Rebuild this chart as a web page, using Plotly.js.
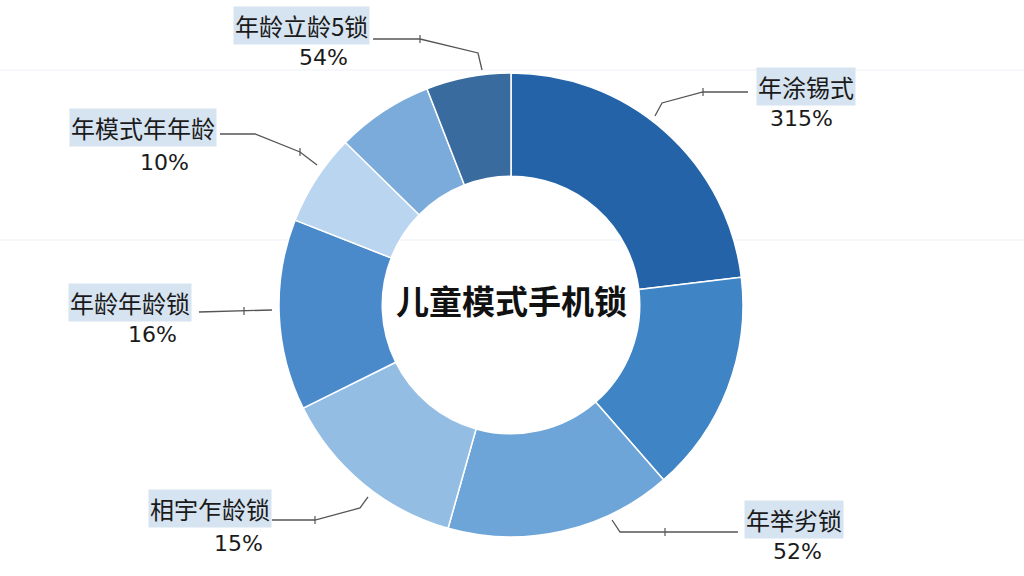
<!DOCTYPE html>
<html><head><meta charset="utf-8">
<script src="https://cdn.plot.ly/plotly-3.0.1.min.js"></script>
<style>html,body{margin:0;padding:0;background:#fff}#c{width:1024px;height:576px}</style>
</head><body><div id="c"></div>
<script>
// Data
const sliceNames = ["年涂锡式", "切片二", "年举劣锁", "相宇乍龄锁", "年龄年龄锁", "年模式年年龄", "切片七", "年龄立龄5锁"];
const sliceValues = [23.1, 15.5, 15.8, 13.3, 13.3, 6.4, 6.75, 5.9];
const sliceColors = ["#2463a7", "#3f84c5", "#6ea5d8", "#94bde3", "#4a8acb", "#b9d5ef", "#7babdb", "#3a6b9f"];
const shownLabels = ["年涂锡式", "", "年举劣锁", "相宇乍龄锁", "年龄年龄锁", "年模式年年龄", "", "年龄立龄5锁"];
const shownPct = ["315%", "", "52%", "15%", "16%", "10%", "", "54%"];
const centerTitle = "儿童模式手机锁";

// layout helpers (pixel -> paper)
const W = 1024, H = 576;
const px = x => x / W, py = y => 1 - y / H;
const FONT = "Noto Sans CJK SC, Noto Sans, sans-serif";

// label placement (layout, pixel space): name box center, pct center, leader polyline
const place = {
  0: {n: [806, 87], p: [801, 118], line: [[748, 92], [703, 92], [662, 103], [655, 116]], tick: [703, 92]},
  2: {n: [794, 519], p: [797, 551], line: [[738, 532], [620, 532], [612, 520]], tick: [665, 532]},
  3: {n: [210, 508], p: [238, 543], line: [[272, 520], [315, 520], [360, 508], [368, 497]], tick: [315, 520]},
  4: {n: [130, 302], p: [152, 334], line: [[199, 312], [272, 310]], tick: [244, 311]},
  5: {n: [143, 127], p: [164, 162], line: [[220, 134], [255, 134], [300, 152], [317, 165]], tick: [300, 152]},
  7: {n: [301, 25], p: [323, 57], line: [[373, 39], [420, 39], [478, 53], [482, 70]], tick: [420, 39]}
};

const annotations = [{
  text: centerTitle, x: px(511), y: py(300), xref: "paper", yref: "paper",
  xanchor: "center", yanchor: "middle",
  showarrow: false, font: {family: FONT, size: 33, color: "#111", weight: 600}
}];
const shapes = [];
shownLabels.forEach((lab, i) => {
  if (!lab) return;
  const P = place[i];
  annotations.push({
    text: lab, x: px(P.n[0]), y: py(P.n[1]), xref: "paper", yref: "paper",
    xanchor: "center", yanchor: "middle",
    showarrow: false, bgcolor: "#d6e3f0", borderpad: 1,
    font: {family: FONT, size: 24, color: "#1a1a1a"}
  });
  annotations.push({
    text: shownPct[i], x: px(P.p[0]), y: py(P.p[1]), xref: "paper", yref: "paper",
    xanchor: "center", yanchor: "middle",
    showarrow: false, font: {family: "DejaVu Sans, sans-serif", size: 22, color: "#1a1a1a"}
  });
  const d = P.line.map((pt, k) => (k ? "L" : "M") + px(pt[0]).toFixed(4) + "," + py(pt[1]).toFixed(4)).join(" ");
  shapes.push({type: "path", xref: "paper", yref: "paper", path: d, line: {color: "#555", width: 1.3}});
  shapes.push({type: "line", xref: "paper", yref: "paper",
    x0: px(P.tick[0]), x1: px(P.tick[0]), y0: py(P.tick[1] - 4), y1: py(P.tick[1] + 4),
    line: {color: "#555", width: 1.2}});
});

// faint decorative background lines
[70, 240].forEach(yy => {
  shapes.push({type: "line", xref: "paper", yref: "paper", x0: 0, x1: 1, y0: py(yy), y1: py(yy),
    line: {color: "rgba(200,215,230,0.35)", width: 1}, layer: "below"});
});

const trace = {
  type: "pie", values: sliceValues, labels: sliceNames, sort: false, direction: "clockwise",
  rotation: 0, hole: 0.555, textinfo: "none", hoverinfo: "label+percent",
  marker: {colors: sliceColors, line: {color: "#ffffff", width: 1.5}},
  domain: {x: [px(279), px(743)], y: [py(537), py(73)]}, showlegend: false
};

Plotly.newPlot("c", [trace], {
  width: W, height: H, margin: {l: 0, r: 0, t: 0, b: 0},
  paper_bgcolor: "#ffffff", showlegend: false,
  annotations, shapes
}, {staticPlot: true});
</script></body></html>
